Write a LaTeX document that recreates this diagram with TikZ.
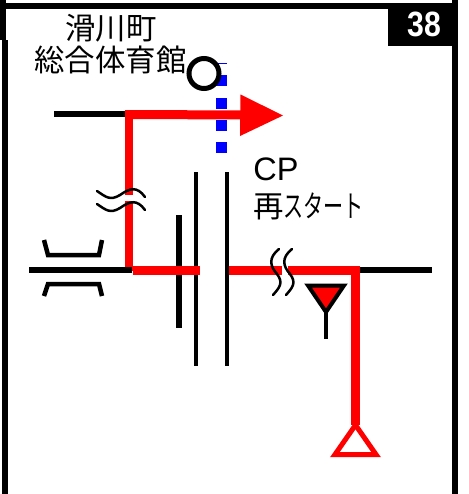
\documentclass[tikz,border=0pt]{standalone}
\usepackage{fontspec}
\setmainfont{Liberation Sans}
\newfontfamily\jpfont{Noto Sans CJK JP}
\tikzset{
    road/.style={line width=0.12cm, black},
    route/.style={line width=0.18cm, red},
    thinroad/.style={line width=0.08cm, black},
    wave/.style={line width=0.05cm, black, line cap=round},
    jplabel/.style={inner sep=0pt, font=\jpfont\fontsize{17.3}{17.3}\selectfont},
}

\begin{document}
\begin{tikzpicture}[x=0.02cm, y=-0.02cm]
    \useasboundingbox (0, 0) rectangle (468, 494);
    % outer frame.
    \fill (0, 0) rectangle (6, 40);
    \fill (2, 40) rectangle (8, 494);
    \fill (0, 3) rectangle (458, 9);
    \fill (452, 0) rectangle (458, 494);
    % number box.
    \fill (388, 9) rectangle (452, 46);
    \node[inner sep=0pt, text=white, xscale=0.86, font=\bfseries\fontsize{20}{20}\selectfont] (number) at (424.5, 24) {38};
    % title.
    \node[jplabel] (town) at (111, 28) {滑川町};
    \node[jplabel] (hall) at (110.5, 60) {総合体育館};
    % blue dots.
    \draw[blue, line width=0.01cm] (216, 63) -- (227, 63);
    \foreach \y in {75, 97.5, 120, 142}
        \fill[blue] (216, \y) rectangle (227, \y + 11);
    % point marker.
    \node[circle, draw, fill=white, line width=0.1cm, minimum size=0.6cm, inner sep=0pt] (point) at (204, 73.5) {};
    % upper branch.
    \coordinate (upper end) at (54, 114);
    \coordinate (upper corner) at (129, 114);
    \coordinate (upper tip) at (245, 115);
    \draw[road] (upper end) -- (upper corner);
    \coordinate (junction) at (129, 271);
    \draw[route] (junction) -- (129, 110);
    \draw[route] (131, 114.5) -- (upper tip);
    \fill[red] (240.5, 94.5) -- (283, 115.5) -- (240, 136) -- cycle;
    % upper wave.
    \fill[white] (97, 194.5) rectangle (145, 201);
    \draw[wave] (97, 191) .. controls (106, 197) and (110, 201) .. (120, 195) .. controls (130, 188) and (137, 186) .. (145, 197);
    \draw[wave] (97, 204) .. controls (106, 210) and (110, 214) .. (120, 208) .. controls (130, 201) and (137, 199) .. (145, 210);
    % bridge.
    \draw[thinroad, line width=0.09cm] (44, 240) -- (48, 255) -- (99, 255) -- (102, 240);
    \draw[thinroad, line width=0.09cm] (44, 296) -- (48, 284) -- (99, 284) -- (102, 296);
    % main road.
    \draw[road] (29, 270) -- (132, 270);
    \draw[road] (357, 270) -- (432, 270);
    \draw[road] (179, 215) -- (179, 328);
    \draw[thinroad] (196, 172) -- (196, 366);
    \draw[thinroad] (227, 172) -- (227, 366);
    \draw[route] (133, 270) -- (200, 270);
    \draw[route] (229, 270) -- (355, 270);
    \draw[route] (355, 266) -- (355, 425);
    % main wave.
    \fill[white] (282, 264) rectangle (288, 276);
    \draw[wave] (279, 249) .. controls (268, 258) and (270, 266) .. (277, 274) .. controls (284, 283) and (279, 288) .. (273, 295);
    \draw[wave] (292, 249) .. controls (281, 258) and (283, 266) .. (290, 274) .. controls (297, 283) and (292, 288) .. (286, 295);
    % antenna.
    \coordinate (antenna foot) at (326, 339);
    \draw[thinroad] (326, 310) -- (antenna foot);
    \draw[fill=red, line width=0.08cm] (308, 285.5) -- (344, 285.5) -- (326, 312) -- cycle;
    % end triangle.
    \draw[red, fill=white, line width=0.1cm] (355.5, 425) -- (376, 454.5) -- (335, 454.5) -- cycle;
    % restart label.
    \node[anchor=west, inner sep=0pt, font=\fontsize{18.5}{18.5}\selectfont] (cp) at (253, 169.5) {CP};
    \node[jplabel, anchor=west] (restart) at (253, 206) {再\scalebox{0.66}[1]{スタート}};
\end{tikzpicture}
\end{document}
